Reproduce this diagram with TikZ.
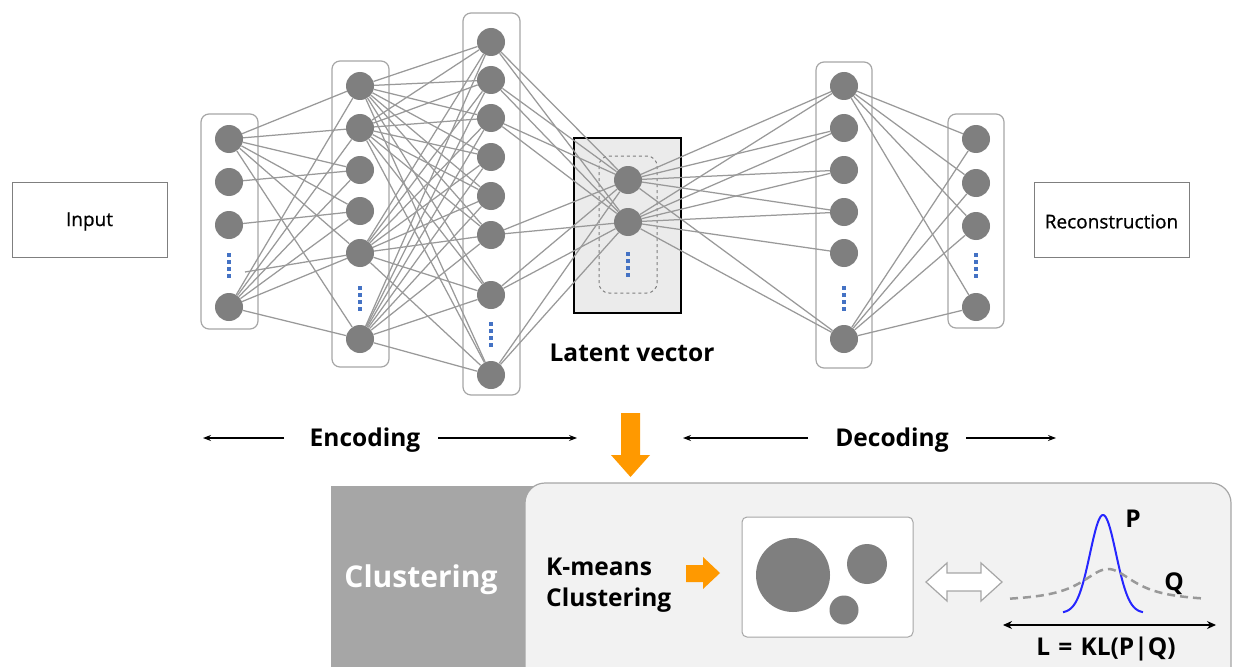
\documentclass[tikz,border=0pt]{standalone}
\usepackage{fontspec}
\setmainfont{Open Sans}
\newfontfamily\medfont[FakeBold=0.8]{Open Sans}
\usetikzlibrary{arrows.meta}
\definecolor{nodegray}{HTML}{7F7F7F}
\definecolor{edgegray}{HTML}{999999}
\definecolor{boxgray}{HTML}{A6A6A6}
\definecolor{dotblue}{HTML}{4472C4}
\definecolor{orng}{HTML}{FF9900}
\definecolor{panelgray}{HTML}{F2F2F2}
\definecolor{darkpanel}{HTML}{A6A6A6}
\definecolor{latentfill}{HTML}{EBEBEB}
\definecolor{qgray}{HTML}{999999}
\tikzset{
  neuron/.style={circle, fill=nodegray, draw=none, minimum size=28pt, inner sep=0pt},
  layerbox/.style={draw=boxgray, line width=1.2pt, rounded corners=8pt, fill=white},
  conn/.style={draw=edgegray, line width=1.25pt},
  bigtext/.style={font=\bfseries\fontsize{24.5}{28}\selectfont, inner sep=0pt},
  smalltext/.style={font=\medfont\fontsize{19}{23}\selectfont, inner sep=0pt},
  iobox/.style={draw=nodegray, line width=1pt, fill=white},
  thinarrow/.style={-{Stealth[length=8pt,width=6pt]}, line width=1.1pt, black},
  bluedots/.pic={\foreach \d in {-10.5,-3.5,3.5,10.5} \fill[dotblue] (-2,\d-2) rectangle (2,\d+2);}
}
\begin{document}
\begin{tikzpicture}[x=1pt,y=-1pt]
\useasboundingbox (0,0) rectangle (1233,666);
\clip (0,0) rectangle (1233,666);

% input / output boxes
\node[iobox, minimum width=155pt, minimum height=75pt] (inp) at (89.5,219.5) {};
\node[smalltext] at ([yshift=-2pt]inp.center) {Input};
\node[iobox, minimum width=155pt, minimum height=75pt] (rec) at (1111.5,219.5) {};
\node[smalltext] at ([yshift=-2pt]rec.center) {Reconstruction};

% layer boxes
\draw[layerbox] (201,114) rectangle (258,329);
\draw[layerbox] (332,61) rectangle (389,367);
\draw[layerbox] (463,13) rectangle (520,395);
\draw[layerbox] (816,62) rectangle (872,368);
\draw[layerbox] (948,114) rectangle (1004,328);

% latent box
\draw[line width=2.5pt, fill=latentfill] (574,138) rectangle (681,313);
\draw[draw=nodegray, dashed, line width=1pt, rounded corners=10pt] (599,156) rectangle (657,293);

% neurons
\node[neuron] (a1) at (229,139) {};
\node[neuron] (a2) at (229,182) {};
\node[neuron] (a3) at (229,225) {};
\node[neuron] (a5) at (229,307) {};
\coordinate (adot) at (245,272);

\node[neuron] (b1) at (360,86) {};
\node[neuron] (b2) at (360,128) {};
\node[neuron] (b3) at (360,170) {};
\node[neuron] (b4) at (360,211) {};
\node[neuron] (b5) at (360,253) {};
\node[neuron] (b7) at (360,339) {};

\node[neuron] (c1) at (491,42) {};
\node[neuron] (c2) at (491,80) {};
\node[neuron] (c3) at (491,118) {};
\node[neuron] (c4) at (491,157) {};
\node[neuron] (c5) at (491,196) {};
\node[neuron] (c6) at (491,235) {};
\node[neuron] (c7) at (491,295) {};
\node[neuron] (c9) at (491,375) {};

\node[neuron] (z1) at (628,180) {};
\node[neuron] (z2) at (628,222) {};

\node[neuron] (d1) at (844,86) {};
\node[neuron] (d2) at (844,128) {};
\node[neuron] (d3) at (844,170) {};
\node[neuron] (d4) at (844,212) {};
\node[neuron] (d5) at (844,253) {};
\node[neuron] (d7) at (844,339) {};

\node[neuron] (e1) at (976,139) {};
\node[neuron] (e2) at (976,183) {};
\node[neuron] (e3) at (976,226) {};
\node[neuron] (e5) at (976,307) {};

% blue dots
\pic at (229,265) {bluedots};
\pic at (360,298) {bluedots};
\pic at (491,334) {bluedots};
\pic at (628,264) {bluedots};
\pic at (844,298) {bluedots};
\pic at (976,265) {bluedots};

% connections
\foreach \s in {a1,a5} \foreach \t in {b1,b2,b3,b4,b5,b7} \draw[conn] (\s) -- (\t);
\draw[conn] (a2) -- (b3);
\draw[conn] (a3) -- (b4);
\draw[conn] (adot) -- (b5);
\foreach \s in {b1,b2,b5,b7} \foreach \t in {c1,c2,c3,c4,c5,c6,c7,c9} \draw[conn] (\s) -- (\t);
\foreach \s in {c1,c2,c3,c6,c7,c9} \foreach \t in {z1,z2} \draw[conn] (\s) -- (\t);
\foreach \t in {d1,d2,d3,d4,d7} \draw[conn] (z1) -- (\t);
\foreach \t in {d1,d2,d3,d4,d5,d7} \draw[conn] (z2) -- (\t);
\foreach \s in {d1,d7} \foreach \t in {e1,e2,e3,e5} \draw[conn] (\s) -- (\t);

\node[bigtext] (lat) at (632,353) {Latent vector};

% encoding / decoding
\node[bigtext] (enc) at (365,440) {Encoding};
\node[bigtext] (dec) at (892,440) {Decoding};
\coordinate (e1l) at (284,438); \coordinate (e1r) at (203,438);
\coordinate (e2l) at (438,438); \coordinate (e2r) at (577,438);
\coordinate (d1l) at (808,438); \coordinate (d1r) at (683,438);
\coordinate (d2l) at (966,438); \coordinate (d2r) at (1056,438);
\draw[thinarrow] (e1l) -- (e1r);
\draw[thinarrow] (e2l) -- (e2r);
\draw[thinarrow] (d1l) -- (d1r);
\draw[thinarrow] (d2l) -- (d2r);

% orange down arrow
\fill[orng] (621,413) -- (640,413) -- (640,455) -- (650,455) -- (630.5,477) -- (611,455) -- (621,455) -- cycle;

% bottom panel
\fill[darkpanel] (331,486) rectangle (560,680);
\draw[draw=boxgray, line width=1.2pt, fill=panelgray, rounded corners=20pt] (525,483) rectangle (1231,700);
\node[font=\bfseries\fontsize{30}{34}\selectfont, text=white, inner sep=0pt] (clu) at (421,580) {Clustering};
\node[align=left, anchor=west, inner sep=0pt, font=\bfseries\fontsize{24.5}{31}\selectfont] (km) at (546,585) {K-means\\Clustering};
\fill[orng] (686,565) -- (703,565) -- (703,557) -- (720,573) -- (703,589) -- (703,582) -- (686,582) -- cycle;

% cluster box
\draw[draw=boxgray, line width=1pt, fill=white, rounded corners=5pt] (742,517) rectangle (913,637);
\fill[nodegray] (793,575) circle (37);
\fill[nodegray] (867,564) circle (20);
\fill[nodegray] (844,610) circle (14.5);

% double arrow outline
\draw[draw=boxgray, line width=1.2pt, fill=white] (926,582) -- (947,563) -- (947,573) -- (981,573) -- (981,563) -- (1002,582) -- (981,601) -- (981,591) -- (947,591) -- (947,601) -- cycle;

% distributions
\draw[blue!85!white, line width=2pt] plot[domain=1063:1143, samples=80] (\x, {613-98*exp(-0.5*((\x-1103)/13)*((\x-1103)/13))});
\draw[qgray, line width=2.5pt, dash pattern=on 8pt off 5pt] plot[domain=1010:1204, samples=80] (\x, {602-33/(1+((\x-1108)/33)*((\x-1108)/33))});
\node[bigtext] (pl) at (1133,519) {P};
\node[bigtext] (ql) at (1174,584) {Q};
\coordinate (axl) at (1003,625);
\coordinate (axr) at (1216,625);
\draw[{Stealth[length=9pt,width=8pt]}-{Stealth[length=9pt,width=8pt]}, line width=1.2pt] (axl) -- (axr);
\node[bigtext] (kl) at (1106,649) {L\,\,=\,\,KL(P|Q)};
\end{tikzpicture}
\end{document}
